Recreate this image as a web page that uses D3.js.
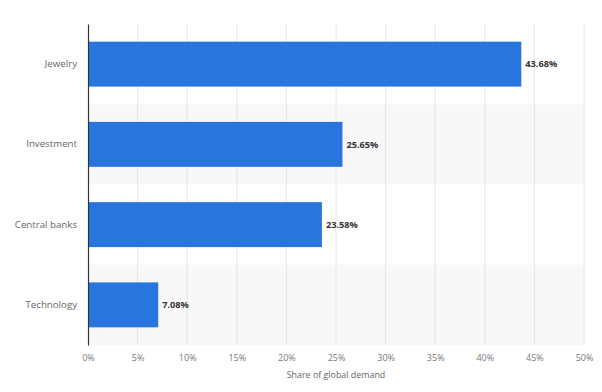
<!DOCTYPE html>
<html><head><meta charset="utf-8">
<script src="https://cdn.jsdelivr.net/npm/d3@7/dist/d3.min.js"></script>
<style>body{margin:0;background:#fff;}svg{display:block;font-family:"Open Sans",Lato,sans-serif;}</style>
</head><body>
<script>
const categories = ["Jewelry", "Investment", "Central banks", "Technology"];
const values = [43.68, 25.65, 23.58, 7.08];
const ticks = [0, 5, 10, 15, 20, 25, 30, 35, 40, 45, 50];
const axisTitle = "Share of global demand";

const W = 602, H = 392;
const m = {left: 88, right: 18, top: 24, bottom: 47};
const svg = d3.select("body").append("svg").attr("width", W).attr("height", H);

const x = d3.scaleLinear().domain([0, 50]).range([m.left, W - m.right]);
const y = d3.scaleBand().domain(categories).range([m.top, H - m.bottom]).paddingInner(0).paddingOuter(0);
const barPad = 0.22;

// alternating band shading
svg.append("g").selectAll("rect").data(categories.filter((d, i) => i % 2 === 1)).join("rect")
  .attr("x", x(0)).attr("y", d => y(d)).attr("width", x(50) - x(0)).attr("height", y.bandwidth())
  .attr("fill", "#f8f8f8");

// gridlines
svg.append("g").selectAll("line").data(ticks.slice(1)).join("line")
  .attr("x1", d => x(d)).attr("x2", d => x(d)).attr("y1", m.top).attr("y2", H - m.bottom)
  .attr("stroke", "#e6e6e6").attr("stroke-width", 1);

// bars
svg.append("g").selectAll("rect").data(values).join("rect")
  .attr("x", x(0)).attr("y", (d, i) => y(categories[i]) + y.bandwidth() * barPad)
  .attr("width", d => x(d) - x(0)).attr("height", y.bandwidth() * (1 - 2 * barPad))
  .attr("fill", "#2876dd");

// value labels
svg.append("g").selectAll("text").data(values).join("text")
  .attr("x", d => x(d) + 4).attr("y", (d, i) => y(categories[i]) + y.bandwidth() / 2)
  .attr("dy", "0.35em").attr("font-size", 9.2).attr("font-weight", "bold").attr("fill", "#333")
  .text(d => d.toFixed(2) + "%");

// y axis
const yAxis = svg.append("g").attr("transform", `translate(${x(0)},0)`)
  .call(d3.axisLeft(y).tickSize(0).tickPadding(11));
yAxis.select(".domain").attr("stroke", "#333").attr("stroke-width", 1.2);
yAxis.selectAll("text").attr("font-size", 9.7).attr("fill", "#666").attr("font-family", "'Open Sans',sans-serif");

// x axis
const xAxis = svg.append("g").attr("transform", `translate(0,${H - m.bottom})`)
  .call(d3.axisBottom(x).tickValues(ticks).tickSize(0).tickPadding(10).tickFormat(d => d + "%"));
xAxis.select(".domain").remove();
xAxis.selectAll("text").attr("font-size", 9).attr("fill", "#777").attr("font-family", "'Open Sans',sans-serif");

svg.append("text").attr("x", (x(0) + x(50)) / 2).attr("y", 378).attr("text-anchor", "middle")
  .attr("font-size", 8.9).attr("fill", "#666").text(axisTitle);
</script>
</body></html>
